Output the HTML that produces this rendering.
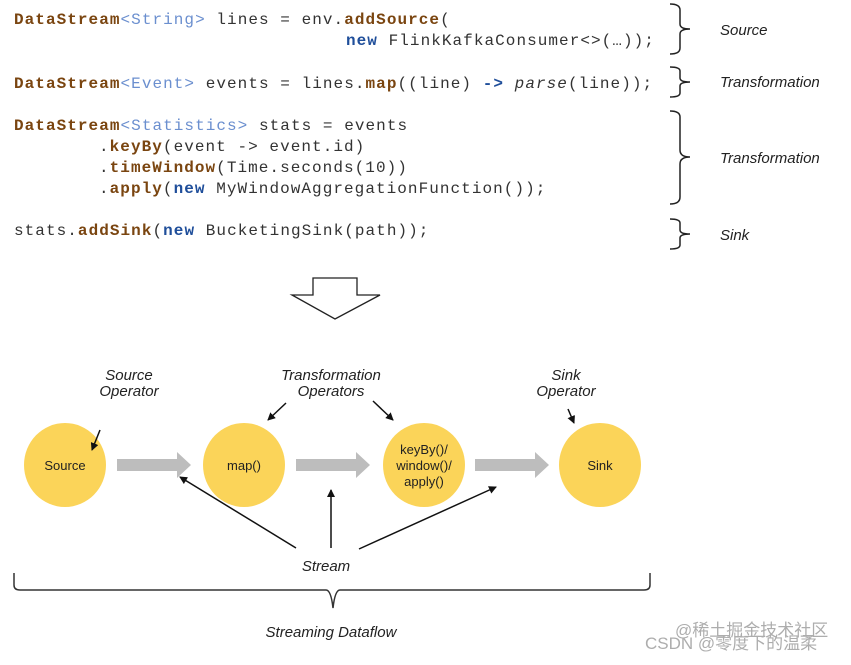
<!DOCTYPE html><html><head><style>body{margin:0;background:#fff}</style></head><body>
<svg width="851" height="660" viewBox="0 0 851 660" xmlns="http://www.w3.org/2000/svg">
<defs><marker id="a" markerWidth="8" markerHeight="8" refX="7" refY="4" orient="auto" markerUnits="userSpaceOnUse"><path d="M0,0L8,4L0,8z" fill="#111"/></marker></defs>
<g font-family="Liberation Mono, monospace" font-size="16" letter-spacing="1.05" fill="#333" xml:space="preserve">
<text x="14" y="24"><tspan fill="#7a4510" font-weight="bold">DataStream</tspan><tspan fill="#6b8fcf">&lt;String&gt;</tspan> lines = env.<tspan fill="#7a4510" font-weight="bold">addSource</tspan>(</text>
<text x="346" y="45"><tspan fill="#1f4e9a" font-weight="bold">new</tspan> FlinkKafkaConsumer&lt;&gt;(…));</text>
<text x="14" y="88"><tspan fill="#7a4510" font-weight="bold">DataStream</tspan><tspan fill="#6b8fcf">&lt;Event&gt;</tspan> events = lines.<tspan fill="#7a4510" font-weight="bold">map</tspan>((line) <tspan fill="#1f4e9a" font-weight="bold">-&gt;</tspan> <tspan font-style="italic">parse</tspan>(line));</text>
<text x="14" y="130"><tspan fill="#7a4510" font-weight="bold">DataStream</tspan><tspan fill="#6b8fcf">&lt;Statistics&gt;</tspan> stats = events</text>
<text x="99" y="151">.<tspan fill="#7a4510" font-weight="bold">keyBy</tspan>(event -&gt; event.id)</text>
<text x="99" y="172">.<tspan fill="#7a4510" font-weight="bold">timeWindow</tspan>(Time.seconds(10))</text>
<text x="99" y="193">.<tspan fill="#7a4510" font-weight="bold">apply</tspan>(<tspan fill="#1f4e9a" font-weight="bold">new</tspan> MyWindowAggregationFunction());</text>
<text x="14" y="235">stats.<tspan fill="#7a4510" font-weight="bold">addSink</tspan>(<tspan fill="#1f4e9a" font-weight="bold">new</tspan> BucketingSink(path));</text>
</g>
<g fill="none" stroke="#222" stroke-width="1.5">
<path d="M670,4 Q680,4 680,10 V24 Q680,29 690,29 Q680,29 680,34 V48 Q680,54 670,54"/>
<path d="M670,67 Q680,67 680,71 V78 Q680,82 690,82 Q680,82 680,86 V93 Q680,97 670,97"/>
<path d="M670,111 Q680,111 680,117 V150 Q680,157 690,157 Q680,157 680,164 V197 Q680,204 670,204"/>
<path d="M670,219 Q680,219 680,223 V230 Q680,234 690,234 Q680,234 680,238 V245 Q680,249 670,249"/>
<path d="M313,278 H357 V295 H380 L335,319 L292,295 H313 Z" stroke-width="1.3"/>
<path d="M14,573 V585 Q14,590 20,590 H326 Q331,590 333,608 Q335,590 340,590 H644 Q650,590 650,585 V573" stroke="#333"/>
</g>
<g font-family="Liberation Sans, sans-serif" font-style="italic" font-size="15" fill="#222">
<text x="720" y="35">Source</text><text x="720" y="87">Transformation</text><text x="720" y="163">Transformation</text><text x="720" y="240">Sink</text>
<g text-anchor="middle"><text x="129" y="380">Source</text><text x="129" y="396">Operator</text>
<text x="331" y="380">Transformation</text><text x="331" y="396">Operators</text>
<text x="566" y="380">Sink</text><text x="566" y="396">Operator</text>
<text x="326" y="571">Stream</text><text x="331" y="637">Streaming Dataflow</text></g>
</g>
<g fill="#bdbdbd">
<path d="M117,459 H177 V452 L191,465 L177,478 V471 H117Z"/>
<path d="M296,459 H356 V452 L370,465 L356,478 V471 H296Z"/>
<path d="M475,459 H535 V452 L549,465 L535,478 V471 H475Z"/>
</g>
<g fill="#fbd459">
<ellipse cx="65" cy="465" rx="41" ry="42"/><ellipse cx="244" cy="465" rx="41" ry="42"/><ellipse cx="424" cy="465" rx="41" ry="42"/><ellipse cx="600" cy="465" rx="41" ry="42"/>
</g>
<g font-family="Liberation Sans, sans-serif" font-size="13" fill="#222" text-anchor="middle">
<text x="65" y="470">Source</text><text x="244" y="470">map()</text>
<text x="424" y="454">keyBy()/</text><text x="424" y="470">window()/</text><text x="424" y="486">apply()</text>
<text x="600" y="470">Sink</text>
</g>
<g stroke="#111" stroke-width="1.5" marker-end="url(#a)">
<line x1="100" y1="430" x2="92" y2="450"/><line x1="286" y1="403" x2="268" y2="420"/>
<line x1="373" y1="401" x2="393" y2="420"/><line x1="568" y1="409" x2="574" y2="423"/>
<line x1="296" y1="548" x2="180" y2="477"/><line x1="331" y1="548" x2="331" y2="490"/>
<line x1="359" y1="549" x2="496" y2="487"/>
</g>
<g font-family="Liberation Sans, Noto Sans CJK SC, sans-serif" font-size="17" fill="#999" opacity="0.8">
<text x="675" y="636">@稀土掘金技术社区</text><text x="645" y="649">CSDN @零度下的温柔</text>
</g>
</svg>
</body></html>
